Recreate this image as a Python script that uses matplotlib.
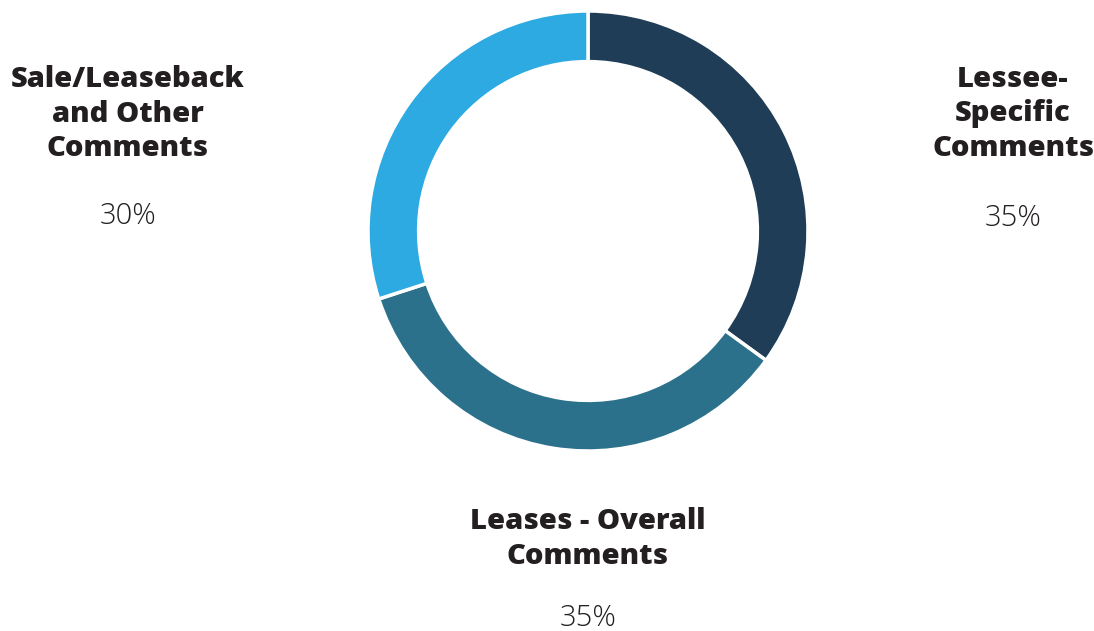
import matplotlib
matplotlib.use("Agg")
import matplotlib.pyplot as plt

categories = ["Lessee-\nSpecific\nComments", "Leases - Overall\nComments", "Sale/Leaseback\nand Other\nComments"]
values = [35, 35, 30]
pct_labels = ["35%", "35%", "30%"]
colors = ["#1f3d56", "#2c718b", "#2daae1"]

W, H = 1094, 631
fig = plt.figure(figsize=(W / 100, H / 100), dpi=100)
fig.patch.set_facecolor("white")

cx, cy, r = 588, 231, 220
ax = fig.add_axes([(cx - r) / W, (H - cy - r) / H, 2 * r / W, 2 * r / H])
ax.pie(values, colors=colors, startangle=90, counterclock=False, radius=1.0,
       wedgeprops=dict(width=0.23, edgecolor="white", linewidth=2.5))
ax.set_xlim(-1, 1)
ax.set_ylim(-1, 1)
ax.axis("off")

title_font = dict(family=["Open Sans", "DejaVu Sans"], weight=800, size=21, color="#231f20")
pct_font = dict(family=["Open Sans", "DejaVu Sans"], weight=300, size=21, color="#231f20")

# (x center, first baseline, percent baseline) in pixels
label_pos = [(1013, 87, 226), (588, 529, 626), (128, 87, 224)]
line_step = 34.5
for cat, pct, (x, yb, yp) in zip(categories, pct_labels, label_pos):
    for i, line in enumerate(cat.split("\n")):
        fig.text(x / W, 1 - (yb + i * line_step) / H, line, ha="center", va="baseline", **title_font)
    fig.text(x / W, 1 - yp / H, pct, ha="center", va="baseline", **pct_font)

fig.savefig("out.png", dpi=100, facecolor="white")
